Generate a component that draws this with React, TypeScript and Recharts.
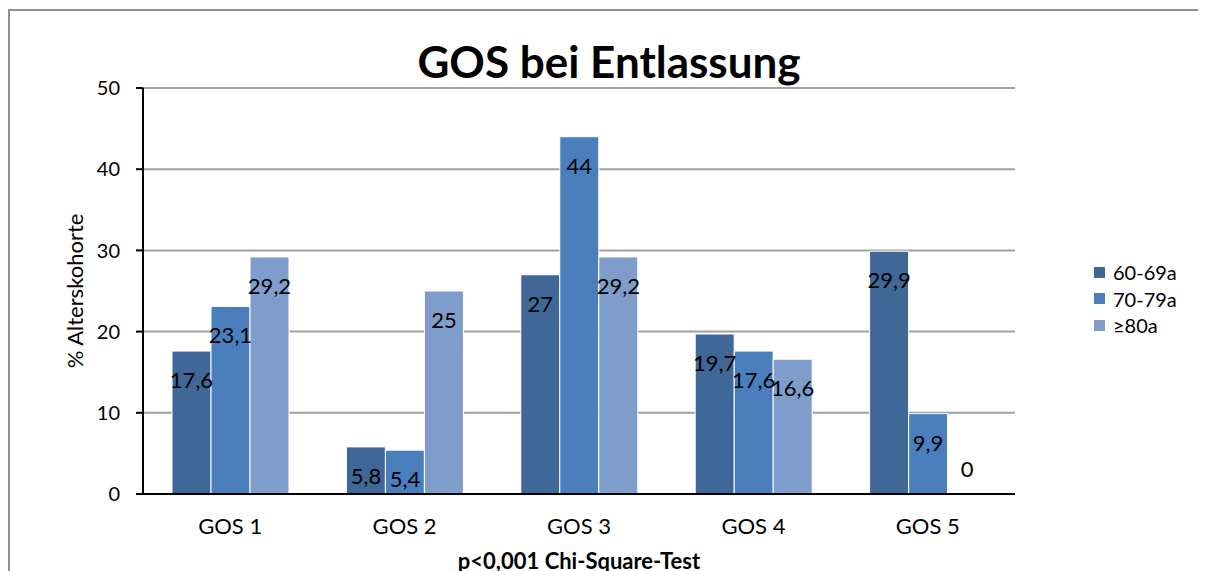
import React from "react";
import {
  BarChart,
  Bar,
  XAxis,
  YAxis,
  CartesianGrid,
  Legend,
  LabelList,
  Cell,
} from "recharts";

const categories = ["GOS 1", "GOS 2", "GOS 3", "GOS 4", "GOS 5"];
const age60 = [17.6, 5.8, 27, 19.7, 29.9];
const age70 = [23.1, 5.4, 44, 17.6, 9.9];
const age80 = [29.2, 25, 29.2, 16.6, 0];
const yTicks = [0, 10, 20, 30, 40, 50];

const seriesNames = ["60-69a", "70-79a", "≥80a"];
const colors = ["#3F6797", "#4A7EBD", "#7E9DCB"];

const data = categories.map((name, i) => ({
  name,
  a: age60[i],
  b: age70[i],
  c: age80[i],
}));

const BarLabel = (props: any) => {
  const vb = props.viewBox || {};
  const x = props.x ?? vb.x;
  const y = props.y ?? vb.y;
  const width = props.width ?? vb.width;
  const height = props.height ?? vb.height;
  const value = props.value;
  // Excel "inside end": below the top of the bar, above the axis for zero bars
  const baseline = height > 0.5 ? y + 37 : y - 17;
  return (
    <text
      x={x + width / 2}
      y={baseline}
      textAnchor="middle"
      fill="#000"
      fontSize={22}
    >
      {String(value).replace(".", ",")}
    </text>
  );
};

const LegendBox = () => (
  <div>
    {seriesNames.map((n, i) => (
      <div
        key={n}
        style={{
          display: "flex",
          alignItems: "center",
          height: 26.5,
          fontSize: 20,
          color: "#000",
          whiteSpace: "nowrap",
        }}
      >
        <span
          style={{
            width: 11,
            height: 11,
            background: colors[i],
            marginRight: 8,
            display: "inline-block",
          }}
        />
        {n}
      </div>
    ))}
  </div>
);

// zero-height bars get a hairline so their label is still drawn
const zeroSize = (v: any) => (v === 0 ? 0.01 : 0);

function App() {
  return (
    <div
      style={{
        position: "relative",
        width: 1198,
        height: 563,
        fontFamily: "Lato, sans-serif",
        overflow: "hidden",
      }}
    >
      {/* frame */}
      <div
        style={{
          position: "absolute",
          left: 0,
          top: 1,
          width: 1300,
          height: 700,
          borderTop: "2px solid #8f8f8f",
          borderLeft: "2px solid #8f8f8f",
        }}
      />
      <div
        style={{
          position: "absolute",
          left: 2,
          top: 31,
          width: 1198,
          textAlign: "center",
          fontSize: 44,
          fontWeight: 700,
          lineHeight: "44px",
          color: "#000",
        }}
      >
        GOS bei Entlassung
      </div>
      <BarChart
        width={1198}
        height={563}
        data={data}
        margin={{ top: 80, right: 191, bottom: 0, left: 0 }}
        barGap={0}
        barCategoryGap={29}
        style={{ position: "absolute", left: 0, top: 0 }}
      >
        <CartesianGrid vertical={false} stroke="#a0a0a0" strokeWidth={2} />
        <XAxis
          dataKey="name"
          height={77}
          tickLine={false}
          tickSize={0}
          tickMargin={24}
          axisLine={{ stroke: "#000", strokeWidth: 2 }}
          tick={{ fill: "#000", fontSize: 22 }}
          label={{
            value: "p<0,001 Chi-Square-Test",
            position: "insideBottom",
            offset: 2,
            fill: "#000",
            fontSize: 22,
            fontWeight: 700,
          }}
        />
        <YAxis
          width={135}
          domain={[0, 50]}
          ticks={yTicks}
          interval={0}
          tickSize={7}
          tickMargin={16}
          axisLine={{ stroke: "#000", strokeWidth: 2 }}
          tickLine={{ stroke: "#000", strokeWidth: 2 }}
          tick={{ fill: "#000", fontSize: 20 }}
          label={{
            value: "% Alterskohorte",
            angle: -90,
            position: "center",
            fill: "#000",
            fontSize: 22,
          }}
        />
        <Legend
          layout="vertical"
          align="center"
          verticalAlign="middle"
          content={<LegendBox />}
          wrapperStyle={{ left: 1086, top: 251, width: 110 }}
        />
        <Bar
          dataKey="a"
          name={seriesNames[0]}
          fill={colors[0]}
          stroke="#fff"
          strokeWidth={1}
          isAnimationActive={false}
        >
          <LabelList dataKey="a" content={<BarLabel />} />
        </Bar>
        <Bar
          dataKey="b"
          name={seriesNames[1]}
          fill={colors[1]}
          stroke="#fff"
          strokeWidth={1}
          isAnimationActive={false}
        >
          <LabelList dataKey="b" content={<BarLabel />} />
        </Bar>
        <Bar
          dataKey="c"
          name={seriesNames[2]}
          fill={colors[2]}
          stroke="#fff"
          strokeWidth={1}
          minPointSize={zeroSize}
          isAnimationActive={false}
        >
          {age80.map((v, i) => (
            <Cell key={i} stroke={v === 0 ? "none" : "#fff"} />
          ))}
          <LabelList dataKey="c" content={<BarLabel />} />
        </Bar>
      </BarChart>
    </div>
  );
}

export default App;
